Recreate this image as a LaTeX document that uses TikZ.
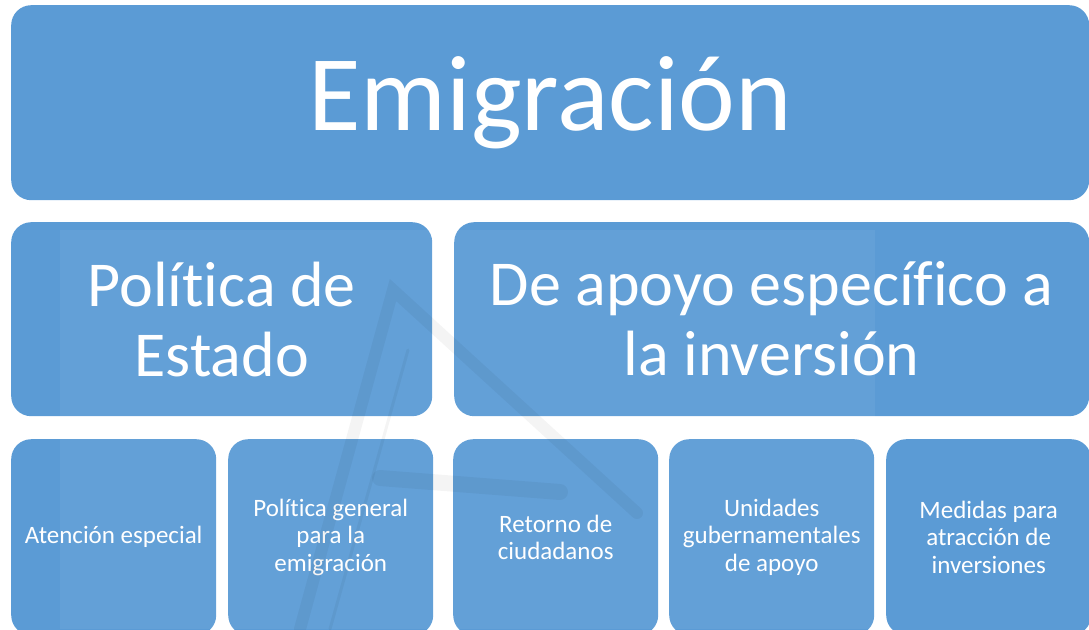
\documentclass[tikz,border=0pt]{standalone}
\usepackage{fontspec}
\setmainfont{Carlito}[Ligatures={CommonOff,RequiredOff}]
\definecolor{boxblue}{HTML}{5B9BD5}
\begin{document}
\begin{tikzpicture}[x=1pt,y=-1pt,
  cell/.style={fill=boxblue, rounded corners=20pt, text=white, align=center,
    inner sep=0pt, anchor=north west},
  topcell/.style={cell, minimum width=1078pt, minimum height=195pt,
    font=\fontsize{107.5}{127}\selectfont},
  midcell/.style={cell, minimum height=194pt, font=\fontsize{64}{70}\selectfont},
  leafcell/.style={cell, minimum width=205pt, minimum height=196pt,
    font=\fontsize{25}{27.5}\selectfont},
  mark stroke/.style={draw=black, draw opacity=0.045, line width=12pt, line cap=round}]
\useasboundingbox (0,0) rectangle (1089,629);
\clip (0,0) rectangle (1089,629);
% top
\node[topcell] (emig) at (11,5) {Emigración};
% second row
\node[midcell, minimum width=421pt] (estado) at (11,222) {Política de\\Estado};
\node[midcell, minimum width=635pt] (apoyo) at (454,222) {De apoyo específico a\\la inversión};
% third row
\node[leafcell] (atencion) at (11,439) {Atención especial};
\node[leafcell] (general) at (228,439) {Política general\\para la\\emigración};
\node[leafcell] (retorno) at (453,439) {Retorno de\\ciudadanos};
\node[leafcell] (unidades) at (669,439) {Unidades\\gubernamentales\\de apoyo};
\node[leafcell] (medidas) at (886,439) {Medidas para\\atracción de\\inversiones};
% faint watermark behind the lower rows
\fill[white, fill opacity=0.05] (60,230) rectangle (875,629);
\draw[mark stroke] (300,629) -- (393,290) -- (637,513);
\draw[mark stroke, line width=3pt] (408,350) -- (330,629);
\draw[mark stroke, line width=16pt] (380,478) -- (560,492);
\end{tikzpicture}
\end{document}
